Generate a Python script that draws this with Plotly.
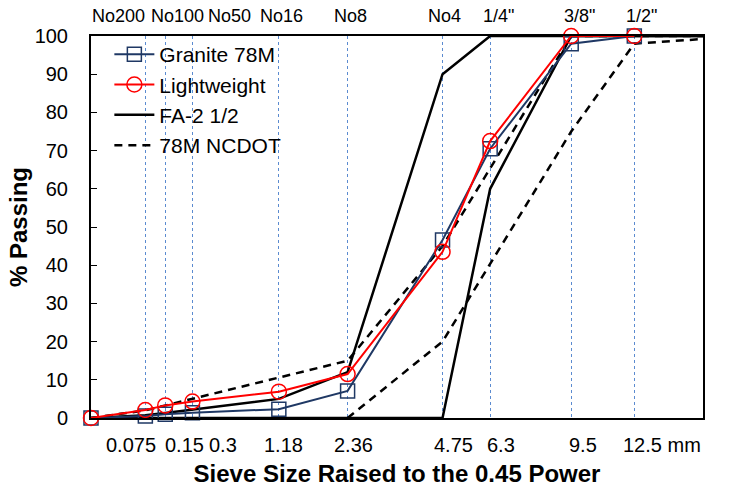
import plotly.graph_objects as go

# Sieve sizes in mm (0 = pan)
sizes = [0, 0.075, 0.15, 0.3, 1.18, 2.36, 4.75, 6.3, 9.5, 12.5]
granite = [0, 0.5, 1.0, 1.4, 2.3, 7.1, 46.6, 70.5, 98, 100]
lightweight = [0, 2.1, 3.3, 4.3, 6.9, 11.5, 43.5, 72.5, 100, 100]

fa2_upper_sizes = [0, 0.075, 0.15, 0.3, 1.18, 2.36, 4.75, 6.3, 9.5, 12.5, 19]
fa2_upper = [0, 0.7, 1.3, 2.2, 5, 12, 90, 100, 100, 100, 100]
fa2_lower_sizes = [0, 4.75, 6.3, 9.5, 12.5, 19]
fa2_lower = [0, 0, 60, 100, 100, 100]

nc_upper_sizes = [0, 0.075, 2.36, 4.75, 9.5, 12.5, 19]
nc_upper = [0, 2, 15, 45, 100, 100, 100]
nc_lower_sizes = [2.36, 4.75, 9.5, 12.5, 19]
nc_lower = [0, 20, 75, 98, 100]

grid_sizes = [0.075, 0.15, 0.3, 1.18, 2.36, 4.75, 6.3, 9.5, 12.5]
top_labels = ["No200", "No100", "No50", "No16", "No8", "No4", '1/4"', '3/8"', '1/2"']
top_shift = [-27, 12, 37, 3, 3, 2, 8, 8, 7]
bottom_labels = ["0.075", "0.15", "0.3", "1.18", "2.36", "4.75", "6.3", "9.5", "12.5 mm"]
bottom_shift = [-14, 19, 31, 5, 6, 11, 11, 12, 28]

P = 0.45
def tx(v):
    return [s ** P for s in v]

FONT = "Liberation Sans, Arial, sans-serif"
fig = go.Figure()

fig.add_trace(go.Scatter(x=tx(fa2_upper_sizes), y=fa2_upper, mode="lines", name="FA-2 1/2",
                         line=dict(color="black", width=2.5), legendrank=3))
fig.add_trace(go.Scatter(x=tx(fa2_lower_sizes), y=fa2_lower, mode="lines", name="FA-2 1/2",
                         line=dict(color="black", width=2.5), showlegend=False))
fig.add_trace(go.Scatter(x=tx(nc_upper_sizes), y=nc_upper, mode="lines", name="78M NCDOT",
                         line=dict(color="black", width=2.5, dash="8px,6px"), legendrank=4))
fig.add_trace(go.Scatter(x=tx(nc_lower_sizes), y=nc_lower, mode="lines", name="78M NCDOT",
                         line=dict(color="black", width=2.5, dash="8px,6px"), showlegend=False))
fig.add_trace(go.Scatter(x=tx(sizes), y=granite, mode="lines+markers", name="Granite 78M",
                         line=dict(color="#1F3864", width=2),
                         marker=dict(symbol="square-open", size=14, color="#1F3864",
                                     line=dict(width=1.5)),
                         cliponaxis=False, legendrank=1))
fig.add_trace(go.Scatter(x=tx(sizes), y=lightweight, mode="lines+markers", name="Lightweight",
                         line=dict(color="#FF0000", width=2),
                         marker=dict(symbol="circle-open", size=15, color="#FF0000",
                                     line=dict(width=1.5)),
                         cliponaxis=False, legendrank=2))

annotations = []
for s, lab, sh in zip(grid_sizes, top_labels, top_shift):
    annotations.append(dict(x=s ** P, y=1, xref="x", yref="paper", text=lab, showarrow=False,
                            xshift=sh, yshift=20, yanchor="middle", xanchor="center",
                            font=dict(size=18, color="black", family=FONT)))
for s, lab, sh in zip(grid_sizes, bottom_labels, bottom_shift):
    annotations.append(dict(x=s ** P, y=0, xref="x", yref="paper", text=lab, showarrow=False,
                            xshift=sh, yshift=-27, yanchor="middle", xanchor="center",
                            font=dict(size=20, color="black", family=FONT)))

fig.update_layout(
    width=744, height=492,
    margin=dict(l=91, r=41, t=36, b=74),
    paper_bgcolor="white", plot_bgcolor="white",
    font=dict(family=FONT, size=18, color="black"),
    showlegend=True,
    legend=dict(x=0.03, y=1.005, xanchor="left", yanchor="top", bgcolor="rgba(0,0,0,0)",
                font=dict(size=21), tracegroupgap=0, itemwidth=40),
    annotations=annotations,
)
fig.update_xaxes(range=[0, 3.51], tickvals=[s ** P for s in grid_sizes], showticklabels=False,
                 showgrid=True, gridcolor="#5B8BD0", griddash="dot", gridwidth=1,
                 zeroline=False, showline=True, linecolor="black", linewidth=2, mirror=True,
                 ticks="",
                 title=dict(text="<b>Sieve Size Raised to the 0.45 Power</b>",
                            font=dict(size=24), standoff=46))
fig.update_yaxes(range=[0, 100], dtick=10, showgrid=False, zeroline=False,
                 showline=True, linecolor="black", linewidth=2, mirror=True,
                 ticks="inside", ticklen=6, tickwidth=1, tickcolor="black",
                 tickfont=dict(size=20), ticklabelstandoff=17,
                 title=dict(text="<b>% Passing</b>", font=dict(size=24), standoff=0))

fig.write_html("out.html")
